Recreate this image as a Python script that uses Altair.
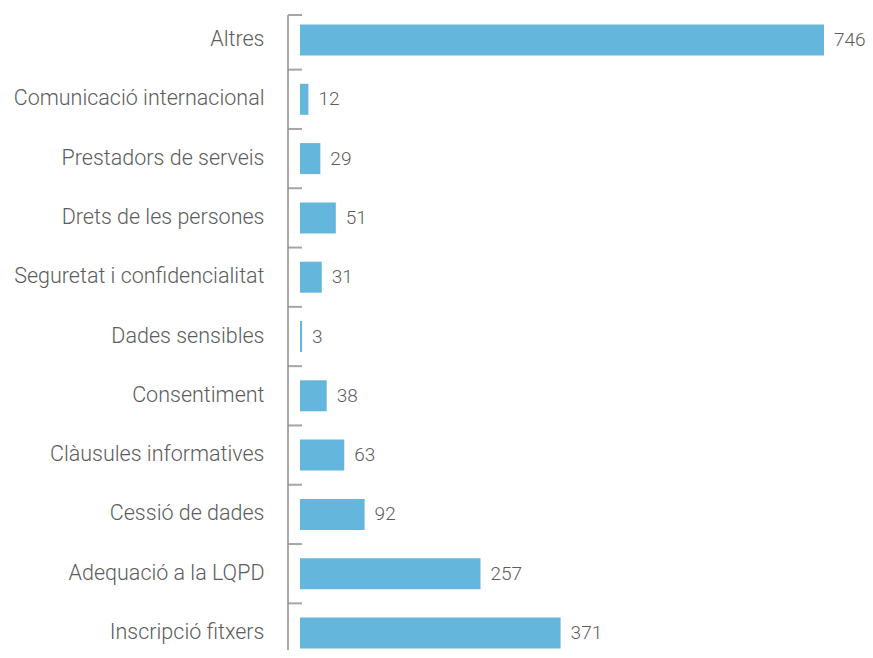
import altair as alt
import pandas as pd

categories = [
    "Altres",
    "Comunicació internacional",
    "Prestadors de serveis",
    "Drets de les persones",
    "Seguretat i confidencialitat",
    "Dades sensibles",
    "Consentiment",
    "Clàusules informatives",
    "Cessió de dades",
    "Adequació a la LQPD",
    "Inscripció fitxers",
]
values = [746, 12, 29, 51, 31, 3, 38, 63, 92, 257, 371]

df = pd.DataFrame({"cat": categories, "val": values})

FONT = "Roboto"
TXT = "#5c5c5c"
BAR = "#65b6dc"
AXC = "#8e8e8e"

yscale = alt.Scale(domain=categories, range=[2.35, 654.65],
                   paddingInner=0.477, paddingOuter=0.2385)
xscale = alt.Scale(domain=[0, 746], nice=False, zero=True)

yenc = alt.Y("cat:N", scale=yscale, sort=categories,
             axis=alt.Axis(title=None, domain=False, ticks=False, tickSize=0,
                           labelPadding=36, labelFont=FONT, labelFontSize=21.5,
                           labelFontWeight=300, labelColor=TXT, labelLimit=400))

base = alt.Chart(df)

bars = base.mark_bar(color=BAR).encode(
    y=yenc,
    x=alt.X("val:Q", scale=xscale, axis=None),
)

labels = base.mark_text(align="left", baseline="middle", dx=10, font=FONT,
                        fontSize=19, fontWeight=300, color=TXT).encode(
    y=yenc,
    x=alt.X("val:Q", scale=xscale, axis=None),
    text="val:Q",
)

ticks = alt.Chart(df.iloc[1:]).mark_rule(color="#a6a6a6", strokeWidth=2,
                                         yOffset=-29.65).encode(
    y=yenc,
    x=alt.value(-12),
    x2=alt.value(2),
)

axis_line = alt.Chart(pd.DataFrame({"a": [0]})).mark_rule(
    color=AXC, strokeWidth=1.5).encode(
    x=alt.value(-12), y=alt.value(7), y2=alt.value(650))

top_tick = alt.Chart(pd.DataFrame({"a": [0]})).mark_rule(
    color="#a6a6a6", strokeWidth=2).encode(
    x=alt.value(-12), x2=alt.value(2), y=alt.value(7))

chart = alt.layer(bars, labels, ticks, axis_line, top_tick).properties(
    width=524,
    height=642,
    autosize=alt.AutoSizeParams(type="none"),
    padding={"left": 292, "top": 0, "right": 41, "bottom": 0},
).configure_view(stroke=None)

chart.save("out.html", embed_options={"renderer": "svg", "actions": False})
